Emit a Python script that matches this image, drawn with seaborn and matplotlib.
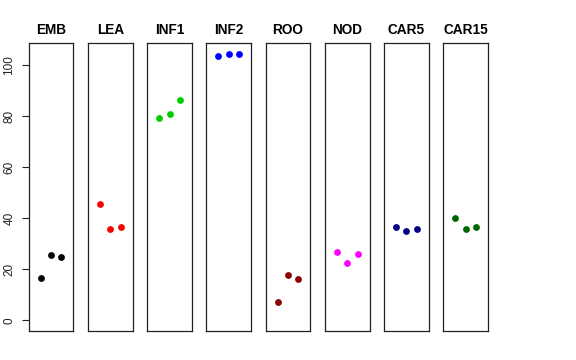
import pandas as pd
import matplotlib
matplotlib.use('Agg')
import matplotlib.pyplot as plt
import seaborn as sns

plt.rcParams['font.family'] = ['Liberation Sans', 'DejaVu Sans']

tissues = ['EMB', 'LEA', 'INF1', 'INF2', 'ROO', 'NOD', 'CAR5', 'CAR15']
colors = ['black', 'red', '#00CD00', 'blue', '#8B0000', 'magenta', '#000080', '#006400']
replicates = [1, 2, 3]
values = {
    'EMB': [16.5, 25.5, 24.7],
    'LEA': [45.7, 35.9, 36.7],
    'INF1': [79.2, 80.8, 86.5],
    'INF2': [103.4, 104.5, 104.3],
    'ROO': [7.1, 17.8, 16.3],
    'NOD': [26.9, 22.6, 25.9],
    'CAR5': [36.6, 35.1, 35.8],
    'CAR15': [40.2, 35.7, 36.5],
}
yticks = [0, 20, 40, 60, 80, 100]

rows = []
for t in tissues:
    for r, v in zip(replicates, values[t]):
        rows.append({'tissue': t, 'rep': r, 'value': v})
df = pd.DataFrame(rows)

W, H = 576, 360
fig = plt.figure(figsize=(W / 100, H / 100), dpi=100)

# panel geometry in pixels
left0, step, pw = 28.7, 59.23, 44.7
top, bottom = 43, 331

ymax = df['value'].max()
ylo, yhi = 0 - 0.04 * ymax, ymax + 0.04 * ymax

for i, (t, c) in enumerate(zip(tissues, colors)):
    ax = fig.add_axes([(left0 + i * step) / W, 1 - bottom / H, pw / W, (bottom - top) / H])
    sub = df[df['tissue'] == t]
    sns.scatterplot(data=sub, x='rep', y='value', color=c, s=24, linewidth=0, ax=ax)
    ax.set_xlim(-0.16, 4.16)
    ax.set_ylim(ylo, yhi)
    ax.set_xticks([])
    ax.set_xlabel('')
    ax.set_ylabel('')
    ax.set_title(t, fontsize=9.8, fontweight='bold', pad=6.8)
    for s in ax.spines.values():
        s.set_color('#222222')
        s.set_linewidth(0.9)
    if i == 0:
        ax.set_yticks(yticks)
        ax.tick_params(axis='y', length=5, width=0.8, pad=4.5, labelsize=8.5, colors='#222222')
        for lab in ax.get_yticklabels():
            lab.set_rotation(90)
            lab.set_va('center')
    else:
        ax.set_yticks([])

fig.savefig('out.png', dpi=100)
